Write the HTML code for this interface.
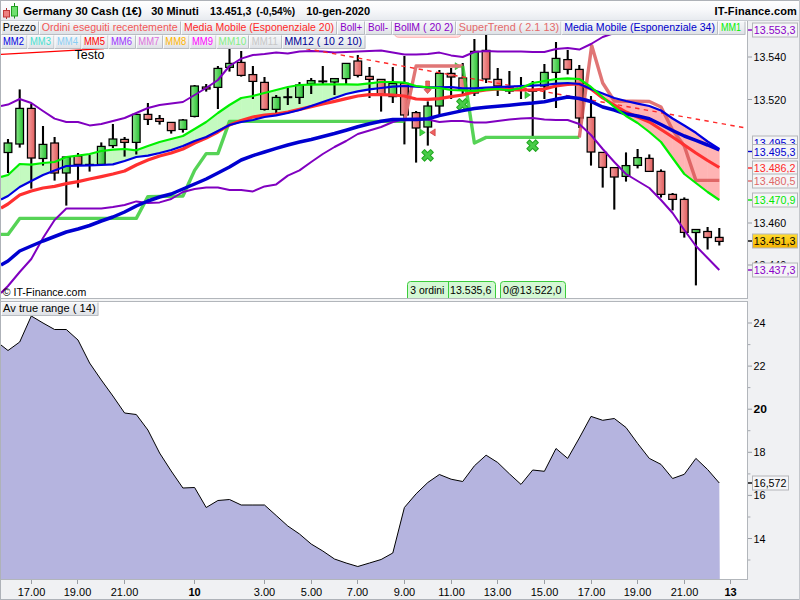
<!DOCTYPE html>
<html lang="it"><head><meta charset="utf-8"><title>Germany 30 Cash</title>
<style>html,body{margin:0;padding:0;background:#fff;width:800px;height:600px;overflow:hidden}svg{display:block;position:absolute;left:0;top:0}text{font-family:"Liberation Sans", Arial, sans-serif;font-size:11px}.b{font-weight:bold}</style></head><body>
<svg width="800" height="600" viewBox="0 0 800 600">
<defs>
<linearGradient id="gT" x1="0" y1="0" x2="0" y2="1"><stop offset="0" stop-color="#ffffff"/><stop offset="0.45" stop-color="#f8f9fb"/><stop offset="1" stop-color="#e6e9ee"/></linearGradient>
<linearGradient id="gL" x1="0" y1="0" x2="0" y2="1"><stop offset="0" stop-color="#f6f7f9"/><stop offset="0.5" stop-color="#eceef1"/><stop offset="1" stop-color="#dcdfe4"/></linearGradient>
<linearGradient id="gG" x1="0" y1="0" x2="1" y2="0"><stop offset="0" stop-color="#8ae88a"/><stop offset="1" stop-color="#28c032"/></linearGradient>
<linearGradient id="gR" x1="0" y1="0" x2="1" y2="0"><stop offset="0" stop-color="#f4a0a0"/><stop offset="1" stop-color="#e05c5c"/></linearGradient>
<linearGradient id="gY" x1="0" y1="0" x2="0" y2="1"><stop offset="0" stop-color="#ffdc30"/><stop offset="1" stop-color="#f6b400"/></linearGradient>
<clipPath id="c1"><rect x="1" y="21" width="746" height="277"/></clipPath>
<clipPath id="c2"><rect x="1" y="302" width="746" height="277"/></clipPath>
</defs>
<rect x="0" y="0" width="800" height="600" fill="#ffffff"/>
<rect x="748" y="21" width="52" height="579" fill="#f0f1f3"/>
<rect x="1" y="580" width="799" height="20" fill="#f0f1f3"/>
<g clip-path="url(#c1)">
<path d="M1.0,177.0 L8.0,175.0 L8.0,196.0 L1.0,199.6 Z" fill="#c4fac0" stroke="#c4fac0" stroke-width="0.6"/>
<path d="M8.0,175.0 L19.7,164.0 L19.7,187.0 L8.0,196.0 Z" fill="#c4fac0" stroke="#c4fac0" stroke-width="0.6"/>
<path d="M19.7,164.0 L31.3,164.6 L31.3,181.0 L19.7,187.0 Z" fill="#c4fac0" stroke="#c4fac0" stroke-width="0.6"/>
<path d="M31.3,164.6 L43.0,163.0 L43.0,175.0 L31.3,181.0 Z" fill="#c4fac0" stroke="#c4fac0" stroke-width="0.6"/>
<path d="M43.0,163.0 L54.6,162.0 L54.6,170.4 L43.0,175.0 Z" fill="#c4fac0" stroke="#c4fac0" stroke-width="0.6"/>
<path d="M54.6,162.0 L66.3,157.0 L66.3,166.0 L54.6,170.4 Z" fill="#c4fac0" stroke="#c4fac0" stroke-width="0.6"/>
<path d="M66.3,157.0 L78.0,155.6 L78.0,165.6 L66.3,166.0 Z" fill="#c4fac0" stroke="#c4fac0" stroke-width="0.6"/>
<path d="M78.0,155.6 L89.6,154.0 L89.6,165.4 L78.0,165.6 Z" fill="#c4fac0" stroke="#c4fac0" stroke-width="0.6"/>
<path d="M89.6,154.0 L101.3,151.0 L101.3,165.0 L89.6,165.4 Z" fill="#c4fac0" stroke="#c4fac0" stroke-width="0.6"/>
<path d="M101.3,151.0 L112.9,149.6 L112.9,164.4 L101.3,165.0 Z" fill="#c4fac0" stroke="#c4fac0" stroke-width="0.6"/>
<path d="M112.9,149.6 L124.6,149.0 L124.6,161.0 L112.9,164.4 Z" fill="#c4fac0" stroke="#c4fac0" stroke-width="0.6"/>
<path d="M124.6,149.0 L136.3,150.3 L136.3,157.0 L124.6,161.0 Z" fill="#c4fac0" stroke="#c4fac0" stroke-width="0.6"/>
<path d="M136.3,150.3 L147.9,146.0 L147.9,155.6 L136.3,157.0 Z" fill="#c4fac0" stroke="#c4fac0" stroke-width="0.6"/>
<path d="M147.9,146.0 L159.6,142.0 L159.6,153.0 L147.9,155.6 Z" fill="#c4fac0" stroke="#c4fac0" stroke-width="0.6"/>
<path d="M159.6,142.0 L171.2,139.0 L171.2,150.0 L159.6,153.0 Z" fill="#c4fac0" stroke="#c4fac0" stroke-width="0.6"/>
<path d="M171.2,139.0 L182.9,136.0 L182.9,146.0 L171.2,150.0 Z" fill="#c4fac0" stroke="#c4fac0" stroke-width="0.6"/>
<path d="M182.9,136.0 L194.6,129.0 L194.6,141.0 L182.9,146.0 Z" fill="#c4fac0" stroke="#c4fac0" stroke-width="0.6"/>
<path d="M194.6,129.0 L206.2,122.0 L206.2,137.0 L194.6,141.0 Z" fill="#c4fac0" stroke="#c4fac0" stroke-width="0.6"/>
<path d="M206.2,122.0 L217.9,113.0 L217.9,131.0 L206.2,137.0 Z" fill="#c4fac0" stroke="#c4fac0" stroke-width="0.6"/>
<path d="M217.9,113.0 L229.5,105.0 L229.5,125.0 L217.9,131.0 Z" fill="#c4fac0" stroke="#c4fac0" stroke-width="0.6"/>
<path d="M229.5,105.0 L241.2,98.0 L241.2,122.0 L229.5,125.0 Z" fill="#c4fac0" stroke="#c4fac0" stroke-width="0.6"/>
<path d="M241.2,98.0 L252.9,96.0 L252.9,120.0 L241.2,122.0 Z" fill="#c4fac0" stroke="#c4fac0" stroke-width="0.6"/>
<path d="M252.9,96.0 L264.5,93.0 L264.5,117.0 L252.9,120.0 Z" fill="#c4fac0" stroke="#c4fac0" stroke-width="0.6"/>
<path d="M264.5,93.0 L276.2,90.0 L276.2,115.4 L264.5,117.0 Z" fill="#c4fac0" stroke="#c4fac0" stroke-width="0.6"/>
<path d="M276.2,90.0 L287.8,87.0 L287.8,113.0 L276.2,115.4 Z" fill="#c4fac0" stroke="#c4fac0" stroke-width="0.6"/>
<path d="M287.8,87.0 L299.5,85.0 L299.5,110.0 L287.8,113.0 Z" fill="#c4fac0" stroke="#c4fac0" stroke-width="0.6"/>
<path d="M299.5,85.0 L311.2,84.6 L311.2,106.0 L299.5,110.0 Z" fill="#c4fac0" stroke="#c4fac0" stroke-width="0.6"/>
<path d="M311.2,84.6 L322.8,84.4 L322.8,102.0 L311.2,106.0 Z" fill="#c4fac0" stroke="#c4fac0" stroke-width="0.6"/>
<path d="M322.8,84.4 L334.5,84.4 L334.5,98.0 L322.8,102.0 Z" fill="#c4fac0" stroke="#c4fac0" stroke-width="0.6"/>
<path d="M334.5,84.4 L346.1,84.4 L346.1,94.0 L334.5,98.0 Z" fill="#c4fac0" stroke="#c4fac0" stroke-width="0.6"/>
<path d="M346.1,84.4 L357.8,84.6 L357.8,91.4 L346.1,94.0 Z" fill="#c4fac0" stroke="#c4fac0" stroke-width="0.6"/>
<path d="M357.8,84.6 L369.5,83.4 L369.5,89.4 L357.8,91.4 Z" fill="#c4fac0" stroke="#c4fac0" stroke-width="0.6"/>
<path d="M369.5,83.4 L381.1,82.0 L381.1,88.0 L369.5,89.4 Z" fill="#c4fac0" stroke="#c4fac0" stroke-width="0.6"/>
<path d="M381.1,82.0 L392.8,82.0 L392.8,86.6 L381.1,88.0 Z" fill="#c4fac0" stroke="#c4fac0" stroke-width="0.6"/>
<path d="M392.8,82.0 L404.4,82.6 L404.4,86.0 L392.8,86.6 Z" fill="#c4fac0" stroke="#c4fac0" stroke-width="0.6"/>
<path d="M404.4,82.6 L416.1,86.0 L416.1,86.6 L404.4,86.0 Z" fill="#c4fac0" stroke="#c4fac0" stroke-width="0.6"/>
<path d="M416.1,86.0 L427.8,87.4 L427.8,87.4 L416.1,86.6 Z" fill="#c4fac0" stroke="#c4fac0" stroke-width="0.6"/>
<path d="M427.8,87.4 L439.4,88.0 L439.4,87.4 L427.8,87.4 Z" fill="#ffb4b4" stroke="#ffb4b4" stroke-width="0.6"/>
<path d="M439.4,88.0 L451.1,90.0 L451.1,87.0 L439.4,87.4 Z" fill="#ffb4b4" stroke="#ffb4b4" stroke-width="0.6"/>
<path d="M451.1,90.0 L462.7,90.4 L462.7,88.4 L451.1,87.0 Z" fill="#ffb4b4" stroke="#ffb4b4" stroke-width="0.6"/>
<path d="M462.7,90.4 L474.4,91.0 L474.4,88.4 L462.7,88.4 Z" fill="#ffb4b4" stroke="#ffb4b4" stroke-width="0.6"/>
<path d="M474.4,91.0 L486.1,89.6 L486.1,87.6 L474.4,88.4 Z" fill="#ffb4b4" stroke="#ffb4b4" stroke-width="0.6"/>
<path d="M486.1,89.6 L497.7,89.0 L497.7,87.0 L486.1,87.6 Z" fill="#ffb4b4" stroke="#ffb4b4" stroke-width="0.6"/>
<path d="M497.7,89.0 L509.4,90.4 L509.4,86.6 L497.7,87.0 Z" fill="#ffb4b4" stroke="#ffb4b4" stroke-width="0.6"/>
<path d="M509.4,90.4 L521.0,88.0 L521.0,86.0 L509.4,86.6 Z" fill="#ffb4b4" stroke="#ffb4b4" stroke-width="0.6"/>
<path d="M521.0,88.0 L526.1,85.8 L521.0,86.0 Z" fill="#ffb4b4" stroke="#ffb4b4" stroke-width="0.6"/>
<path d="M526.1,85.8 L532.7,83.0 L532.7,85.6 Z" fill="#c4fac0" stroke="#c4fac0" stroke-width="0.6"/>
<path d="M532.7,83.0 L544.4,81.0 L544.4,85.0 L532.7,85.6 Z" fill="#c4fac0" stroke="#c4fac0" stroke-width="0.6"/>
<path d="M544.4,81.0 L556.0,79.0 L556.0,83.6 L544.4,85.0 Z" fill="#c4fac0" stroke="#c4fac0" stroke-width="0.6"/>
<path d="M556.0,79.0 L567.7,78.4 L567.7,83.0 L556.0,83.6 Z" fill="#c4fac0" stroke="#c4fac0" stroke-width="0.6"/>
<path d="M567.7,78.4 L579.3,79.0 L579.3,84.0 L567.7,83.0 Z" fill="#c4fac0" stroke="#c4fac0" stroke-width="0.6"/>
<path d="M579.3,79.0 L591.0,87.0 L591.0,89.0 L579.3,84.0 Z" fill="#c4fac0" stroke="#c4fac0" stroke-width="0.6"/>
<path d="M591.0,87.0 L595.3,90.7 L591.0,89.0 Z" fill="#c4fac0" stroke="#c4fac0" stroke-width="0.6"/>
<path d="M595.3,90.7 L602.7,97.0 L602.7,93.6 Z" fill="#ffb4b4" stroke="#ffb4b4" stroke-width="0.6"/>
<path d="M602.7,97.0 L614.3,107.0 L614.3,98.0 L602.7,93.6 Z" fill="#ffb4b4" stroke="#ffb4b4" stroke-width="0.6"/>
<path d="M614.3,107.0 L626.0,116.0 L626.0,101.0 L614.3,98.0 Z" fill="#ffb4b4" stroke="#ffb4b4" stroke-width="0.6"/>
<path d="M626.0,116.0 L637.6,123.0 L637.6,103.6 L626.0,101.0 Z" fill="#ffb4b4" stroke="#ffb4b4" stroke-width="0.6"/>
<path d="M637.6,123.0 L649.3,132.0 L649.3,106.0 L637.6,103.6 Z" fill="#ffb4b4" stroke="#ffb4b4" stroke-width="0.6"/>
<path d="M649.3,132.0 L661.0,142.0 L661.0,110.5 L649.3,106.0 Z" fill="#ffb4b4" stroke="#ffb4b4" stroke-width="0.6"/>
<path d="M661.0,142.0 L672.6,158.0 L672.6,118.5 L661.0,110.5 Z" fill="#ffb4b4" stroke="#ffb4b4" stroke-width="0.6"/>
<path d="M672.6,158.0 L684.3,174.0 L684.3,125.5 L672.6,118.5 Z" fill="#ffb4b4" stroke="#ffb4b4" stroke-width="0.6"/>
<path d="M684.3,174.0 L695.9,183.0 L695.9,132.8 L684.3,125.5 Z" fill="#ffb4b4" stroke="#ffb4b4" stroke-width="0.6"/>
<path d="M695.9,183.0 L707.6,192.0 L707.6,141.5 L695.9,132.8 Z" fill="#ffb4b4" stroke="#ffb4b4" stroke-width="0.6"/>
<path d="M707.6,192.0 L719.3,200.0 L719.3,149.0 L707.6,141.5 Z" fill="#ffb4b4" stroke="#ffb4b4" stroke-width="0.6"/>
<path d="M394.5,33 Q394.5,37.3 399,37.3 H456.5 Q461,37.3 461,33 Z" fill="#ffe2e2" stroke="#ffb0b0" stroke-width="1"/>
<line x1="8.0" y1="139.0" x2="8.0" y2="173.0" stroke="#000" stroke-width="2.1"/>
<rect x="4.15" y="143.0" width="7.7" height="9.5" fill="url(#gG)" stroke="#000" stroke-width="1.25"/>
<line x1="19.7" y1="89.4" x2="19.7" y2="147.6" stroke="#000" stroke-width="2.1"/>
<rect x="15.81" y="108.4" width="7.7" height="35.6" fill="url(#gG)" stroke="#000" stroke-width="1.25"/>
<line x1="31.3" y1="104.0" x2="31.3" y2="188.6" stroke="#000" stroke-width="2.1"/>
<rect x="27.47" y="108.4" width="7.7" height="49.6" fill="url(#gR)" stroke="#000" stroke-width="1.25"/>
<line x1="43.0" y1="126.0" x2="43.0" y2="165.6" stroke="#000" stroke-width="2.1"/>
<rect x="39.13" y="144.4" width="7.7" height="14.1" fill="url(#gG)" stroke="#000" stroke-width="1.25"/>
<line x1="54.6" y1="137.0" x2="54.6" y2="180.6" stroke="#000" stroke-width="2.1"/>
<rect x="50.79" y="143.0" width="7.7" height="30.0" fill="url(#gR)" stroke="#000" stroke-width="1.25"/>
<line x1="66.3" y1="157.0" x2="66.3" y2="205.6" stroke="#000" stroke-width="2.1"/>
<rect x="62.45" y="157.0" width="7.7" height="16.0" fill="url(#gG)" stroke="#000" stroke-width="1.25"/>
<line x1="78.0" y1="153.0" x2="78.0" y2="187.6" stroke="#000" stroke-width="2.1"/>
<rect x="74.11" y="156.0" width="7.7" height="8.4" fill="url(#gR)" stroke="#000" stroke-width="1.25"/>
<line x1="89.6" y1="155.0" x2="89.6" y2="171.6" stroke="#000" stroke-width="2.1"/>
<rect x="85.1" y="163.8" width="9" height="2.0" fill="#000"/>
<line x1="101.3" y1="142.4" x2="101.3" y2="164.4" stroke="#000" stroke-width="2.1"/>
<rect x="97.43" y="146.4" width="7.7" height="18.0" fill="url(#gG)" stroke="#000" stroke-width="1.25"/>
<line x1="112.9" y1="124.0" x2="112.9" y2="148.0" stroke="#000" stroke-width="2.1"/>
<rect x="109.09" y="139.0" width="7.7" height="6.6" fill="url(#gG)" stroke="#000" stroke-width="1.25"/>
<line x1="124.6" y1="137.0" x2="124.6" y2="156.6" stroke="#000" stroke-width="2.1"/>
<rect x="120.75" y="139.4" width="7.7" height="3.0" fill="url(#gR)" stroke="#000" stroke-width="1.25"/>
<line x1="136.3" y1="114.4" x2="136.3" y2="154.5" stroke="#000" stroke-width="2.1"/>
<rect x="132.41" y="114.4" width="7.7" height="28.0" fill="url(#gG)" stroke="#000" stroke-width="1.25"/>
<line x1="147.9" y1="103.0" x2="147.9" y2="125.0" stroke="#000" stroke-width="2.1"/>
<rect x="144.07" y="114.4" width="7.7" height="5.0" fill="url(#gR)" stroke="#000" stroke-width="1.25"/>
<line x1="159.6" y1="115.0" x2="159.6" y2="124.6" stroke="#000" stroke-width="2.1"/>
<rect x="155.73" y="118.6" width="7.7" height="2.8" fill="url(#gR)" stroke="#000" stroke-width="1.25"/>
<line x1="171.2" y1="122.4" x2="171.2" y2="133.6" stroke="#000" stroke-width="2.1"/>
<rect x="167.39" y="122.4" width="7.7" height="8.2" fill="url(#gR)" stroke="#000" stroke-width="1.25"/>
<line x1="182.9" y1="119.0" x2="182.9" y2="132.6" stroke="#000" stroke-width="2.1"/>
<rect x="179.05" y="120.0" width="7.7" height="9.4" fill="url(#gG)" stroke="#000" stroke-width="1.25"/>
<line x1="194.6" y1="85.0" x2="194.6" y2="117.4" stroke="#000" stroke-width="2.1"/>
<rect x="190.71" y="86.0" width="7.7" height="30.4" fill="url(#gG)" stroke="#000" stroke-width="1.25"/>
<line x1="206.2" y1="84.0" x2="206.2" y2="91.6" stroke="#000" stroke-width="2.1"/>
<rect x="202.37" y="87.0" width="7.7" height="2.0" fill="url(#gR)" stroke="#000" stroke-width="1.25"/>
<line x1="217.9" y1="66.0" x2="217.9" y2="109.0" stroke="#000" stroke-width="2.1"/>
<rect x="214.03" y="68.4" width="7.7" height="19.0" fill="url(#gG)" stroke="#000" stroke-width="1.25"/>
<line x1="229.5" y1="40.0" x2="229.5" y2="71.6" stroke="#000" stroke-width="2.1"/>
<rect x="225.69" y="63.4" width="7.7" height="4.0" fill="url(#gG)" stroke="#000" stroke-width="1.25"/>
<line x1="241.2" y1="51.0" x2="241.2" y2="76.6" stroke="#000" stroke-width="2.1"/>
<rect x="237.35" y="62.4" width="7.7" height="13.0" fill="url(#gR)" stroke="#000" stroke-width="1.25"/>
<line x1="252.9" y1="66.0" x2="252.9" y2="99.0" stroke="#000" stroke-width="2.1"/>
<rect x="249.01" y="74.6" width="7.7" height="6.8" fill="url(#gR)" stroke="#000" stroke-width="1.25"/>
<line x1="264.5" y1="77.0" x2="264.5" y2="110.6" stroke="#000" stroke-width="2.1"/>
<rect x="260.67" y="82.4" width="7.7" height="27.0" fill="url(#gR)" stroke="#000" stroke-width="1.25"/>
<line x1="276.2" y1="95.0" x2="276.2" y2="114.0" stroke="#000" stroke-width="2.1"/>
<rect x="272.33" y="97.4" width="7.7" height="12.0" fill="url(#gG)" stroke="#000" stroke-width="1.25"/>
<line x1="287.8" y1="88.0" x2="287.8" y2="105.0" stroke="#000" stroke-width="2.1"/>
<rect x="283.3" y="96.2" width="9" height="2.0" fill="#000"/>
<line x1="299.5" y1="82.0" x2="299.5" y2="104.0" stroke="#000" stroke-width="2.1"/>
<rect x="295.65" y="85.0" width="7.7" height="12.4" fill="url(#gG)" stroke="#000" stroke-width="1.25"/>
<line x1="311.2" y1="78.0" x2="311.2" y2="94.0" stroke="#000" stroke-width="2.1"/>
<rect x="307.31" y="80.6" width="7.7" height="3.4" fill="url(#gG)" stroke="#000" stroke-width="1.25"/>
<line x1="322.8" y1="66.0" x2="322.8" y2="85.0" stroke="#000" stroke-width="2.1"/>
<rect x="318.3" y="80.4" width="9" height="2.0" fill="#000"/>
<line x1="334.5" y1="78.6" x2="334.5" y2="95.0" stroke="#000" stroke-width="2.1"/>
<rect x="330.63" y="78.6" width="7.7" height="3.4" fill="url(#gG)" stroke="#000" stroke-width="1.25"/>
<line x1="346.1" y1="63.0" x2="346.1" y2="84.0" stroke="#000" stroke-width="2.1"/>
<rect x="342.29" y="63.4" width="7.7" height="15.2" fill="url(#gG)" stroke="#000" stroke-width="1.25"/>
<line x1="357.8" y1="55.0" x2="357.8" y2="77.4" stroke="#000" stroke-width="2.1"/>
<rect x="353.95" y="61.0" width="7.7" height="14.4" fill="url(#gR)" stroke="#000" stroke-width="1.25"/>
<line x1="369.5" y1="67.0" x2="369.5" y2="98.0" stroke="#000" stroke-width="2.1"/>
<rect x="365.61" y="76.4" width="7.7" height="3.0" fill="url(#gR)" stroke="#000" stroke-width="1.25"/>
<line x1="381.1" y1="79.4" x2="381.1" y2="111.6" stroke="#000" stroke-width="2.1"/>
<rect x="377.27" y="79.4" width="7.7" height="15.2" fill="url(#gR)" stroke="#000" stroke-width="1.25"/>
<line x1="392.8" y1="67.0" x2="392.8" y2="103.0" stroke="#000" stroke-width="2.1"/>
<rect x="388.93" y="83.4" width="7.7" height="13.2" fill="url(#gG)" stroke="#000" stroke-width="1.25"/>
<line x1="404.4" y1="56.0" x2="404.4" y2="144.4" stroke="#000" stroke-width="2.1"/>
<rect x="400.59" y="83.4" width="7.7" height="31.6" fill="url(#gR)" stroke="#000" stroke-width="1.25"/>
<line x1="416.1" y1="111.0" x2="416.1" y2="162.6" stroke="#000" stroke-width="2.1"/>
<rect x="412.25" y="112.6" width="7.7" height="15.4" fill="url(#gR)" stroke="#000" stroke-width="1.25"/>
<line x1="427.8" y1="101.4" x2="427.8" y2="145.6" stroke="#000" stroke-width="2.1"/>
<rect x="423.91" y="106.0" width="7.7" height="21.0" fill="url(#gG)" stroke="#000" stroke-width="1.25"/>
<line x1="439.4" y1="70.0" x2="439.4" y2="115.0" stroke="#000" stroke-width="2.1"/>
<rect x="435.57" y="73.4" width="7.7" height="32.6" fill="url(#gG)" stroke="#000" stroke-width="1.25"/>
<line x1="451.1" y1="68.0" x2="451.1" y2="99.0" stroke="#000" stroke-width="2.1"/>
<rect x="447.23" y="73.4" width="7.7" height="3.6" fill="url(#gR)" stroke="#000" stroke-width="1.25"/>
<line x1="462.7" y1="63.0" x2="462.7" y2="95.0" stroke="#000" stroke-width="2.1"/>
<rect x="458.89" y="78.0" width="7.7" height="12.0" fill="url(#gR)" stroke="#000" stroke-width="1.25"/>
<line x1="474.4" y1="39.0" x2="474.4" y2="96.0" stroke="#000" stroke-width="2.1"/>
<rect x="470.55" y="51.4" width="7.7" height="41.6" fill="url(#gG)" stroke="#000" stroke-width="1.25"/>
<line x1="486.1" y1="35.0" x2="486.1" y2="83.0" stroke="#000" stroke-width="2.1"/>
<rect x="482.21" y="50.4" width="7.7" height="28.6" fill="url(#gR)" stroke="#000" stroke-width="1.25"/>
<line x1="497.7" y1="68.0" x2="497.7" y2="96.0" stroke="#000" stroke-width="2.1"/>
<rect x="493.87" y="79.4" width="7.7" height="6.6" fill="url(#gR)" stroke="#000" stroke-width="1.25"/>
<line x1="509.4" y1="71.0" x2="509.4" y2="94.0" stroke="#000" stroke-width="2.1"/>
<rect x="505.53" y="88.0" width="7.7" height="3.0" fill="url(#gR)" stroke="#000" stroke-width="1.25"/>
<line x1="521.0" y1="77.0" x2="521.0" y2="99.0" stroke="#000" stroke-width="2.1"/>
<rect x="516.5" y="89.0" width="9" height="2.0" fill="#000"/>
<line x1="532.7" y1="81.0" x2="532.7" y2="136.0" stroke="#000" stroke-width="2.1"/>
<rect x="528.2" y="89.8" width="9" height="2.0" fill="#000"/>
<line x1="544.4" y1="64.0" x2="544.4" y2="99.0" stroke="#000" stroke-width="2.1"/>
<rect x="540.51" y="72.4" width="7.7" height="13.6" fill="url(#gG)" stroke="#000" stroke-width="1.25"/>
<line x1="556.0" y1="42.0" x2="556.0" y2="108.0" stroke="#000" stroke-width="2.1"/>
<rect x="552.17" y="58.4" width="7.7" height="14.0" fill="url(#gG)" stroke="#000" stroke-width="1.25"/>
<line x1="567.7" y1="50.0" x2="567.7" y2="74.4" stroke="#000" stroke-width="2.1"/>
<rect x="563.83" y="59.6" width="7.7" height="9.8" fill="url(#gR)" stroke="#000" stroke-width="1.25"/>
<line x1="579.3" y1="65.0" x2="579.3" y2="128.0" stroke="#000" stroke-width="2.1"/>
<rect x="575.49" y="69.4" width="7.7" height="48.6" fill="url(#gR)" stroke="#000" stroke-width="1.25"/>
<line x1="591.0" y1="96.0" x2="591.0" y2="165.6" stroke="#000" stroke-width="2.1"/>
<rect x="587.15" y="117.4" width="7.7" height="34.6" fill="url(#gR)" stroke="#000" stroke-width="1.25"/>
<line x1="602.7" y1="152.4" x2="602.7" y2="187.6" stroke="#000" stroke-width="2.1"/>
<rect x="598.81" y="152.4" width="7.7" height="15.0" fill="url(#gR)" stroke="#000" stroke-width="1.25"/>
<line x1="614.3" y1="167.6" x2="614.3" y2="209.6" stroke="#000" stroke-width="2.1"/>
<rect x="610.47" y="167.6" width="7.7" height="9.4" fill="url(#gR)" stroke="#000" stroke-width="1.25"/>
<line x1="626.0" y1="152.4" x2="626.0" y2="181.6" stroke="#000" stroke-width="2.1"/>
<rect x="622.13" y="165.6" width="7.7" height="10.8" fill="url(#gG)" stroke="#000" stroke-width="1.25"/>
<line x1="637.6" y1="149.0" x2="637.6" y2="168.4" stroke="#000" stroke-width="2.1"/>
<rect x="633.79" y="157.6" width="7.7" height="7.8" fill="url(#gG)" stroke="#000" stroke-width="1.25"/>
<line x1="649.3" y1="154.4" x2="649.3" y2="171.4" stroke="#000" stroke-width="2.1"/>
<rect x="645.45" y="158.4" width="7.7" height="13.0" fill="url(#gR)" stroke="#000" stroke-width="1.25"/>
<line x1="661.0" y1="169.4" x2="661.0" y2="197.6" stroke="#000" stroke-width="2.1"/>
<rect x="657.11" y="171.4" width="7.7" height="23.0" fill="url(#gR)" stroke="#000" stroke-width="1.25"/>
<line x1="672.6" y1="193.0" x2="672.6" y2="210.4" stroke="#000" stroke-width="2.1"/>
<rect x="668.77" y="194.4" width="7.7" height="5.0" fill="url(#gR)" stroke="#000" stroke-width="1.25"/>
<line x1="684.3" y1="197.4" x2="684.3" y2="237.6" stroke="#000" stroke-width="2.1"/>
<rect x="680.43" y="199.4" width="7.7" height="33.0" fill="url(#gR)" stroke="#000" stroke-width="1.25"/>
<line x1="695.9" y1="229.5" x2="695.9" y2="285.4" stroke="#000" stroke-width="2.1"/>
<rect x="692.09" y="229.5" width="7.7" height="3.0" fill="url(#gG)" stroke="#000" stroke-width="1.25"/>
<line x1="707.6" y1="227.0" x2="707.6" y2="249.5" stroke="#000" stroke-width="2.1"/>
<rect x="703.75" y="231.5" width="7.7" height="6.0" fill="url(#gR)" stroke="#000" stroke-width="1.25"/>
<line x1="719.3" y1="228.0" x2="719.3" y2="245.5" stroke="#000" stroke-width="2.1"/>
<rect x="715.41" y="237.4" width="7.7" height="4.0" fill="url(#gR)" stroke="#000" stroke-width="1.25"/>
<g transform="translate(427.6,155.4) rotate(45)"><path d="M-1.9,-6.2 H1.9 V-1.9 H6.2 V1.9 H1.9 V6.2 H-1.9 V1.9 H-6.2 V-1.9 H-1.9 Z" fill="#48cc48" stroke="#22a822" stroke-width="1.1" stroke-linejoin="round"/></g>
<g transform="translate(462.4,104.4) rotate(45)"><path d="M-1.9,-6.2 H1.9 V-1.9 H6.2 V1.9 H1.9 V6.2 H-1.9 V1.9 H-6.2 V-1.9 H-1.9 Z" fill="#48cc48" stroke="#22a822" stroke-width="1.1" stroke-linejoin="round"/></g>
<g transform="translate(532.6,145.6) rotate(45)"><path d="M-1.9,-6.2 H1.9 V-1.9 H6.2 V1.9 H1.9 V6.2 H-1.9 V1.9 H-6.2 V-1.9 H-1.9 Z" fill="#48cc48" stroke="#22a822" stroke-width="1.1" stroke-linejoin="round"/></g>
<path d="M419.8,128.9 L425.2,132.4 L419.8,135.9 Z" fill="#40d840" stroke="#20a020" stroke-width="0.6"/>
<path d="M435.2,128.9 L429.8,132.4 L435.2,135.9 Z" fill="#f06060" stroke="#c03030" stroke-width="0.6"/>
<path d="M455.2,62.7 L460.6,66.2 L455.2,69.7 Z" fill="#40d840" stroke="#20a020" stroke-width="0.6"/>
<path d="M525.0,91.5 L530.4,95.0 L525.0,98.5 Z" fill="#40d840" stroke="#20a020" stroke-width="0.6"/>
<path d="M425.7,81 H429.5 V89.5 H431.2 L427.6,93.6 L424,89.5 H425.7 Z" fill="#ea6666" stroke="#c84444" stroke-width="0.7"/>
<path d="M1.0,234.4 L8.0,234.4 L19.7,218.4 L136.3,218.4 L147.9,196.6 L182.9,196.0 L194.6,170.4 L206.2,153.6 L217.9,153.6 L229.5,121.4 L404.4,121.4" fill="none" stroke="#2cc82c" stroke-opacity="0.8" stroke-width="3.4" stroke-linejoin="round" stroke-linecap="butt"/>
<path d="M404.4,121.4 L416.1,66.0 L462.7,66.0" fill="none" stroke="#e07676" stroke-width="3.4" stroke-linejoin="round"/>
<path d="M462.7,66.0 L474.4,143.0 L486.1,137.4 L579.3,137.4" fill="none" stroke="#2cc82c" stroke-opacity="0.8" stroke-width="3.4" stroke-linejoin="round" stroke-linecap="butt"/>
<path d="M579.3,137.4 L591.7,45.6 L602.7,83.0 L614.3,101.0 L649.3,101.5 L661.0,107.0 L672.6,130.0 L684.3,146.0 L695.9,180.4 L719.3,180.4" fill="none" stroke="#d85252" stroke-opacity="0.8" stroke-width="3.4" stroke-linejoin="round"/>
<path d="M1.0,293.0 L8.0,286.0 L19.7,272.0 L31.3,259.0 L43.0,238.0 L54.6,220.0 L66.3,208.5 L78.0,208.5 L89.6,208.5 L101.3,208.5 L112.9,207.0 L124.6,205.0 L136.3,201.4 L147.9,203.0 L159.6,202.4 L171.2,199.0 L182.9,192.0 L194.6,189.0 L206.2,187.4 L217.9,187.4 L229.5,190.0 L241.2,190.0 L252.9,191.4 L264.5,186.4 L276.2,184.4 L287.8,175.6 L299.5,170.4 L311.2,162.0 L322.8,154.0 L334.5,147.0 L346.1,141.0 L357.8,134.0 L369.5,130.5 L381.1,127.0 L392.8,122.0 L404.4,119.0 L416.1,118.6 L427.8,119.4 L439.4,122.0 L451.1,121.0 L462.7,121.0 L474.4,122.4 L486.1,122.4 L497.7,121.0 L509.4,119.6 L521.0,118.6 L532.7,118.0 L544.4,119.4 L556.0,120.0 L567.7,120.0 L579.3,124.0 L591.0,135.0 L602.7,149.0 L614.3,162.0 L626.0,174.0 L637.6,181.0 L649.3,188.0 L661.0,200.0 L672.6,213.0 L684.3,230.0 L695.9,246.0 L707.6,258.0 L719.3,270.0" fill="none" stroke="#8000c0" stroke-width="2" stroke-linejoin="round"/>
<path d="M1.0,106.0 L8.0,104.6 L19.7,99.0 L31.3,103.0 L43.0,111.0 L54.6,118.6 L66.3,122.0 L78.0,122.0 L89.6,125.4 L101.3,124.0 L112.9,121.0 L124.6,118.0 L136.3,113.0 L147.9,108.0 L159.6,105.0 L171.2,103.6 L182.9,102.0 L194.6,95.0 L206.2,88.0 L217.9,80.0 L229.5,66.0 L241.2,58.6 L252.9,55.0 L264.5,54.0 L276.2,52.6 L287.8,53.4 L299.5,51.4 L311.2,51.0 L322.8,51.4 L334.5,52.6 L346.1,52.0 L357.8,51.6 L369.5,51.0 L381.1,50.6 L392.8,52.6 L404.4,54.6 L416.1,54.6 L427.8,54.0 L439.4,52.6 L451.1,55.4 L462.7,57.0 L474.4,52.0 L486.1,51.0 L497.7,51.6 L509.4,51.6 L521.0,51.6 L532.7,52.0 L544.4,52.0 L556.0,49.0 L567.7,48.0 L579.3,49.6 L591.0,44.0 L602.7,37.0 L614.3,33.0 L626.0,32.0 L637.6,31.5 L649.3,31.0 L661.0,30.5 L672.6,30.5 L684.3,30.5 L695.9,30.0 L707.6,30.0 L719.3,30.0" fill="none" stroke="#8000c0" stroke-width="2" stroke-linejoin="round"/>
<line x1="1" y1="54.3" x2="104" y2="48.6" stroke="#ff0000" stroke-width="1.3"/>
<line x1="280" y1="44" x2="747" y2="128.2" stroke="#ff2a2a" stroke-width="1.4" stroke-dasharray="4.4 4.4"/>
<path d="M1.0,208.0 L8.0,204.0 L19.7,195.0 L31.3,191.0 L43.0,188.0 L54.6,186.4 L66.3,183.6 L78.0,181.6 L89.6,179.0 L101.3,176.6 L112.9,174.0 L124.6,171.0 L136.3,165.0 L147.9,160.0 L159.6,156.0 L171.2,153.0 L182.9,149.0 L194.6,143.0 L206.2,138.0 L217.9,132.0 L229.5,125.0 L241.2,120.6 L252.9,117.0 L264.5,115.0 L276.2,114.0 L287.8,112.0 L299.5,109.4 L311.2,106.6 L322.8,104.0 L334.5,101.4 L346.1,98.6 L357.8,96.0 L369.5,94.6 L381.1,94.6 L392.8,95.0 L404.4,96.0 L416.1,99.0 L427.8,99.4 L439.4,98.6 L451.1,96.6 L462.7,95.0 L474.4,91.6 L486.1,90.0 L497.7,89.0 L509.4,89.6 L521.0,90.0 L532.7,90.0 L544.4,89.0 L556.0,86.0 L567.7,84.4 L579.3,84.0 L591.0,89.0 L602.7,98.0 L614.3,105.0 L626.0,112.0 L637.6,117.0 L649.3,122.0 L661.0,129.5 L672.6,137.0 L684.3,145.0 L695.9,153.0 L707.6,160.5 L719.3,167.5" fill="none" stroke="#ff3030" stroke-width="3.2" stroke-linejoin="round"/>
<path d="M1.0,265.0 L8.0,261.0 L19.7,251.0 L31.3,246.0 L43.0,241.0 L54.6,236.5 L66.3,232.0 L78.0,229.0 L89.6,225.5 L101.3,221.0 L112.9,217.0 L124.6,212.0 L136.3,206.0 L147.9,201.0 L159.6,197.0 L171.2,194.0 L182.9,189.0 L194.6,184.0 L206.2,179.0 L217.9,173.0 L229.5,167.0 L241.2,160.0 L252.9,155.6 L264.5,152.0 L276.2,148.4 L287.8,145.0 L299.5,142.0 L311.2,139.5 L322.8,136.5 L334.5,133.5 L346.1,130.2 L357.8,126.7 L369.5,123.7 L381.1,121.2 L392.8,119.4 L404.4,119.4 L416.1,119.4 L427.8,118.7 L439.4,115.6 L451.1,113.1 L462.7,110.6 L474.4,108.5 L486.1,107.2 L497.7,106.3 L509.4,105.2 L521.0,104.0 L532.7,103.0 L544.4,101.7 L556.0,99.2 L567.7,97.0 L579.3,98.5 L591.0,101.5 L602.7,107.0 L614.3,110.0 L626.0,114.0 L637.6,116.0 L649.3,118.7 L661.0,124.5 L672.6,130.5 L684.3,136.0 L695.9,140.4 L707.6,145.0 L719.3,150.0" fill="none" stroke="#0000d0" stroke-width="3.5" stroke-linejoin="round"/>
<path d="M1.0,199.6 L8.0,196.0 L19.7,187.0 L31.3,181.0 L43.0,175.0 L54.6,170.4 L66.3,166.0 L78.0,165.6 L89.6,165.4 L101.3,165.0 L112.9,164.4 L124.6,161.0 L136.3,157.0 L147.9,155.6 L159.6,153.0 L171.2,150.0 L182.9,146.0 L194.6,141.0 L206.2,137.0 L217.9,131.0 L229.5,125.0 L241.2,122.0 L252.9,120.0 L264.5,117.0 L276.2,115.4 L287.8,113.0 L299.5,110.0 L311.2,106.0 L322.8,102.0 L334.5,98.0 L346.1,94.0 L357.8,91.4 L369.5,89.4 L381.1,88.0 L392.8,86.6 L404.4,86.0 L416.1,86.6 L427.8,87.4 L439.4,87.4 L451.1,87.0 L462.7,88.4 L474.4,88.4 L486.1,87.6 L497.7,87.0 L509.4,86.6 L521.0,86.0 L532.7,85.6 L544.4,85.0 L556.0,83.6 L567.7,83.0 L579.3,84.0 L591.0,89.0 L602.7,93.6 L614.3,98.0 L626.0,101.0 L637.6,103.6 L649.3,106.0 L661.0,110.5 L672.6,118.5 L684.3,125.5 L695.9,132.8 L707.6,141.5 L719.3,149.0" fill="none" stroke="#0000e0" stroke-width="2.2" stroke-linejoin="round"/>
<path d="M1.0,177.0 L8.0,175.0 L19.7,164.0 L31.3,164.6 L43.0,163.0 L54.6,162.0 L66.3,157.0 L78.0,155.6 L89.6,154.0 L101.3,151.0 L112.9,149.6 L124.6,149.0 L136.3,150.3 L147.9,146.0 L159.6,142.0 L171.2,139.0 L182.9,136.0 L194.6,129.0 L206.2,122.0 L217.9,113.0 L229.5,105.0 L241.2,98.0 L252.9,96.0 L264.5,93.0 L276.2,90.0 L287.8,87.0 L299.5,85.0 L311.2,84.6 L322.8,84.4 L334.5,84.4 L346.1,84.4 L357.8,84.6 L369.5,83.4 L381.1,82.0 L392.8,82.0 L404.4,82.6 L416.1,86.0 L427.8,87.4 L439.4,88.0 L451.1,90.0 L462.7,90.4 L474.4,91.0 L486.1,89.6 L497.7,89.0 L509.4,90.4 L521.0,88.0 L532.7,83.0 L544.4,81.0 L556.0,79.0 L567.7,78.4 L579.3,79.0 L591.0,87.0 L602.7,97.0 L614.3,107.0 L626.0,116.0 L637.6,123.0 L649.3,132.0 L661.0,142.0 L672.6,158.0 L684.3,174.0 L695.9,183.0 L707.6,192.0 L719.3,200.0" fill="none" stroke="#00f000" stroke-width="2.2" stroke-linejoin="round"/>
</g>
<g clip-path="url(#c2)">
<path d="M1,579 L1.0,345.0 L8.0,350.5 L19.7,342.0 L31.3,316.0 L43.0,323.0 L54.6,329.5 L66.3,329.5 L78.0,340.0 L89.6,363.0 L101.3,380.0 L112.9,396.0 L124.6,413.0 L136.3,414.5 L147.9,430.0 L159.6,453.0 L171.2,471.0 L182.9,488.0 L194.6,487.5 L206.2,507.5 L217.9,500.5 L229.5,499.5 L241.2,505.0 L252.9,505.0 L264.5,505.0 L276.2,515.5 L287.8,526.0 L299.5,534.0 L311.2,544.0 L322.8,551.0 L334.5,559.0 L346.1,563.0 L357.8,566.5 L369.5,563.0 L381.1,559.5 L392.8,553.0 L404.4,507.5 L416.1,493.8 L427.8,482.5 L439.4,474.5 L451.1,479.2 L462.7,481.5 L474.4,465.8 L486.1,455.2 L497.7,462.5 L509.4,473.8 L521.0,484.4 L532.7,470.0 L544.4,471.3 L556.0,448.5 L567.7,458.4 L579.3,438.0 L591.0,416.4 L602.7,420.3 L614.3,418.5 L626.0,427.5 L637.6,443.4 L649.3,458.4 L661.0,464.4 L672.6,478.5 L684.3,474.3 L695.9,458.4 L707.6,469.5 L719.3,483.0 L719.8,579 Z" fill="#b5b4df"/>
<path d="M1.0,345.0 L8.0,350.5 L19.7,342.0 L31.3,316.0 L43.0,323.0 L54.6,329.5 L66.3,329.5 L78.0,340.0 L89.6,363.0 L101.3,380.0 L112.9,396.0 L124.6,413.0 L136.3,414.5 L147.9,430.0 L159.6,453.0 L171.2,471.0 L182.9,488.0 L194.6,487.5 L206.2,507.5 L217.9,500.5 L229.5,499.5 L241.2,505.0 L252.9,505.0 L264.5,505.0 L276.2,515.5 L287.8,526.0 L299.5,534.0 L311.2,544.0 L322.8,551.0 L334.5,559.0 L346.1,563.0 L357.8,566.5 L369.5,563.0 L381.1,559.5 L392.8,553.0 L404.4,507.5 L416.1,493.8 L427.8,482.5 L439.4,474.5 L451.1,479.2 L462.7,481.5 L474.4,465.8 L486.1,455.2 L497.7,462.5 L509.4,473.8 L521.0,484.4 L532.7,470.0 L544.4,471.3 L556.0,448.5 L567.7,458.4 L579.3,438.0 L591.0,416.4 L602.7,420.3 L614.3,418.5 L626.0,427.5 L637.6,443.4 L649.3,458.4 L661.0,464.4 L672.6,478.5 L684.3,474.3 L695.9,458.4 L707.6,469.5 L719.3,483.0" fill="none" stroke="#000" stroke-width="1" stroke-linejoin="round"/>
</g>
<rect x="1" y="298" width="747" height="1" fill="#b2b6bb"/>
<rect x="1" y="299" width="747" height="2" fill="#f4f5f6"/>
<rect x="1" y="301" width="747" height="1" fill="#b2b6bb"/>
<rect x="747" y="21" width="1" height="278" fill="#b2b6bb"/>
<rect x="747" y="301" width="1" height="279" fill="#b2b6bb"/>
<rect x="1" y="579" width="747" height="1" fill="#b2b6bb"/>
<rect x="748" y="298" width="52" height="4" fill="#f0f1f3"/>
<rect x="0" y="0" width="800" height="21" fill="url(#gT)"/>
<rect x="0" y="20" width="800" height="1" fill="#c9cdd2"/>
<line x1="6.5" y1="8" x2="6.5" y2="19" stroke="#b03030" stroke-width="1"/>
<rect x="3.5" y="10.5" width="6" height="6.5" fill="#ee8080" stroke="#c03838" stroke-width="1"/>
<line x1="14.5" y1="3" x2="14.5" y2="18.5" stroke="#189018" stroke-width="1"/>
<rect x="11.5" y="6.5" width="6" height="9.5" fill="#70e070" stroke="#20a020" stroke-width="1"/>
<text x="23.25" y="15" class="b" textLength="118.5" lengthAdjust="spacingAndGlyphs">Germany 30 Cash (1€)</text>
<text x="151.25" y="15" class="b" textLength="47.5" lengthAdjust="spacingAndGlyphs">30 Minuti</text>
<text x="210.00" y="15" class="b" textLength="41.3" lengthAdjust="spacingAndGlyphs">13.451,3</text>
<text x="256.30" y="15" class="b" textLength="38.8" lengthAdjust="spacingAndGlyphs">(-0,54%)</text>
<text x="306.25" y="15" class="b" textLength="63.8" lengthAdjust="spacingAndGlyphs">10-gen-2020</text>
<text x="714.4" y="15" class="b" textLength="82.5" lengthAdjust="spacing">IT-Finance.com</text>
<rect x="1.0" y="21.0" width="38.0" height="14.0" fill="url(#gL)"/>
<path d="M1.5,34.5 V21.5 H38.5" fill="none" stroke="#fbfcfd" stroke-width="1"/>
<path d="M38.5,21.5 V34.5 H1.5" fill="none" stroke="#b9bdc3" stroke-width="1"/>
<text x="2.8" y="31.2" fill="#000000" textLength="33.2" lengthAdjust="spacingAndGlyphs">Prezzo</text>
<rect x="39.0" y="21.0" width="142.0" height="14.0" fill="url(#gL)"/>
<path d="M39.5,34.5 V21.5 H180.5" fill="none" stroke="#fbfcfd" stroke-width="1"/>
<path d="M180.5,21.5 V34.5 H39.5" fill="none" stroke="#b9bdc3" stroke-width="1"/>
<text x="41.7" y="31.2" fill="#f25858" textLength="136.0" lengthAdjust="spacingAndGlyphs">Ordini eseguiti recentemente</text>
<rect x="181.0" y="21.0" width="156.0" height="14.0" fill="url(#gL)"/>
<path d="M181.5,34.5 V21.5 H336.5" fill="none" stroke="#fbfcfd" stroke-width="1"/>
<path d="M336.5,21.5 V34.5 H181.5" fill="none" stroke="#b9bdc3" stroke-width="1"/>
<text x="184.0" y="31.2" fill="#ff2828" textLength="150.0" lengthAdjust="spacingAndGlyphs">Media Mobile (Esponenziale 20)</text>
<rect x="337.0" y="21.0" width="28.0" height="14.0" fill="url(#gL)"/>
<path d="M337.5,34.5 V21.5 H364.5" fill="none" stroke="#fbfcfd" stroke-width="1"/>
<path d="M364.5,21.5 V34.5 H337.5" fill="none" stroke="#b9bdc3" stroke-width="1"/>
<text x="340.2" y="31.2" fill="#8a00c8" textLength="22.0" lengthAdjust="spacingAndGlyphs">Boll+</text>
<rect x="365.0" y="21.0" width="27.0" height="14.0" fill="url(#gL)"/>
<path d="M365.5,34.5 V21.5 H391.5" fill="none" stroke="#fbfcfd" stroke-width="1"/>
<path d="M391.5,21.5 V34.5 H365.5" fill="none" stroke="#b9bdc3" stroke-width="1"/>
<text x="368.0" y="31.2" fill="#8a00c8" textLength="20.0" lengthAdjust="spacingAndGlyphs">Boll-</text>
<rect x="392.0" y="21.0" width="64.0" height="14.0" fill="url(#gL)"/>
<path d="M392.5,34.5 V21.5 H455.5" fill="none" stroke="#fbfcfd" stroke-width="1"/>
<path d="M455.5,21.5 V34.5 H392.5" fill="none" stroke="#b9bdc3" stroke-width="1"/>
<text x="393.9" y="31.2" fill="#8a00c8" textLength="59.4" lengthAdjust="spacingAndGlyphs">BollM ( 20 2)</text>
<rect x="456.0" y="21.0" width="105.5" height="14.0" fill="url(#gL)"/>
<path d="M456.5,34.5 V21.5 H561.0" fill="none" stroke="#fbfcfd" stroke-width="1"/>
<path d="M561.0,21.5 V34.5 H456.5" fill="none" stroke="#b9bdc3" stroke-width="1"/>
<text x="458.8" y="31.2" fill="#e46a6a" textLength="100.3" lengthAdjust="spacingAndGlyphs">SuperTrend ( 2.1 13)</text>
<rect x="561.5" y="21.0" width="156.5" height="14.0" fill="url(#gL)"/>
<path d="M562.0,34.5 V21.5 H717.5" fill="none" stroke="#fbfcfd" stroke-width="1"/>
<path d="M717.5,21.5 V34.5 H562.0" fill="none" stroke="#b9bdc3" stroke-width="1"/>
<text x="564.2" y="31.2" fill="#0000cc" textLength="150.8" lengthAdjust="spacingAndGlyphs">Media Mobile (Esponenziale 34)</text>
<rect x="718.0" y="21.0" width="27.5" height="14.0" fill="url(#gL)"/>
<path d="M718.5,34.5 V21.5 H745.0" fill="none" stroke="#fbfcfd" stroke-width="1"/>
<path d="M745.0,21.5 V34.5 H718.5" fill="none" stroke="#b9bdc3" stroke-width="1"/>
<text x="720.9" y="31.2" fill="#00f000" textLength="20.2" lengthAdjust="spacingAndGlyphs">MM1</text>
<rect x="1.0" y="35.0" width="26.5" height="14.0" fill="url(#gL)"/>
<path d="M1.5,48.5 V35.5 H27.0" fill="none" stroke="#fbfcfd" stroke-width="1"/>
<path d="M27.0,35.5 V48.5 H1.5" fill="none" stroke="#b9bdc3" stroke-width="1"/>
<text x="3.0" y="44.8" fill="#0000e0" textLength="21.0" lengthAdjust="spacingAndGlyphs">MM2</text>
<rect x="27.5" y="35.0" width="27.0" height="14.0" fill="url(#gL)"/>
<path d="M28.0,48.5 V35.5 H54.0" fill="none" stroke="#fbfcfd" stroke-width="1"/>
<path d="M54.0,35.5 V48.5 H28.0" fill="none" stroke="#b9bdc3" stroke-width="1"/>
<text x="30.0" y="44.8" fill="#48e0d0" textLength="21.0" lengthAdjust="spacingAndGlyphs">MM3</text>
<rect x="54.5" y="35.0" width="27.0" height="14.0" fill="url(#gL)"/>
<path d="M55.0,48.5 V35.5 H81.0" fill="none" stroke="#fbfcfd" stroke-width="1"/>
<path d="M81.0,35.5 V48.5 H55.0" fill="none" stroke="#b9bdc3" stroke-width="1"/>
<text x="57.0" y="44.8" fill="#88ccf4" textLength="21.0" lengthAdjust="spacingAndGlyphs">MM4</text>
<rect x="81.5" y="35.0" width="27.0" height="14.0" fill="url(#gL)"/>
<path d="M82.0,48.5 V35.5 H108.0" fill="none" stroke="#fbfcfd" stroke-width="1"/>
<path d="M108.0,35.5 V48.5 H82.0" fill="none" stroke="#b9bdc3" stroke-width="1"/>
<text x="84.0" y="44.8" fill="#ff0000" textLength="21.0" lengthAdjust="spacingAndGlyphs">MM5</text>
<rect x="108.5" y="35.0" width="27.5" height="14.0" fill="url(#gL)"/>
<path d="M109.0,48.5 V35.5 H135.5" fill="none" stroke="#fbfcfd" stroke-width="1"/>
<path d="M135.5,35.5 V48.5 H109.0" fill="none" stroke="#b9bdc3" stroke-width="1"/>
<text x="111.0" y="44.8" fill="#9a30ff" textLength="21.0" lengthAdjust="spacingAndGlyphs">MM6</text>
<rect x="136.0" y="35.0" width="27.0" height="14.0" fill="url(#gL)"/>
<path d="M136.5,48.5 V35.5 H162.5" fill="none" stroke="#fbfcfd" stroke-width="1"/>
<path d="M162.5,35.5 V48.5 H136.5" fill="none" stroke="#b9bdc3" stroke-width="1"/>
<text x="138.3" y="44.8" fill="#dc70dc" textLength="21.0" lengthAdjust="spacingAndGlyphs">MM7</text>
<rect x="163.0" y="35.0" width="26.5" height="14.0" fill="url(#gL)"/>
<path d="M163.5,48.5 V35.5 H189.0" fill="none" stroke="#fbfcfd" stroke-width="1"/>
<path d="M189.0,35.5 V48.5 H163.5" fill="none" stroke="#b9bdc3" stroke-width="1"/>
<text x="165.3" y="44.8" fill="#ffb400" textLength="21.0" lengthAdjust="spacingAndGlyphs">MM8</text>
<rect x="189.5" y="35.0" width="27.0" height="14.0" fill="url(#gL)"/>
<path d="M190.0,48.5 V35.5 H216.0" fill="none" stroke="#fbfcfd" stroke-width="1"/>
<path d="M216.0,35.5 V48.5 H190.0" fill="none" stroke="#b9bdc3" stroke-width="1"/>
<text x="192.0" y="44.8" fill="#ff00ff" textLength="21.0" lengthAdjust="spacingAndGlyphs">MM9</text>
<rect x="216.5" y="35.0" width="32.5" height="14.0" fill="url(#gL)"/>
<path d="M217.0,48.5 V35.5 H248.5" fill="none" stroke="#fbfcfd" stroke-width="1"/>
<path d="M248.5,35.5 V48.5 H217.0" fill="none" stroke="#b9bdc3" stroke-width="1"/>
<text x="218.6" y="44.8" fill="#84ee84" textLength="27.8" lengthAdjust="spacingAndGlyphs">MM10</text>
<rect x="249.0" y="35.0" width="33.0" height="14.0" fill="url(#gL)"/>
<path d="M249.5,48.5 V35.5 H281.5" fill="none" stroke="#fbfcfd" stroke-width="1"/>
<path d="M281.5,35.5 V48.5 H249.5" fill="none" stroke="#b9bdc3" stroke-width="1"/>
<text x="251.8" y="44.8" fill="#c6c6c6" textLength="26.0" lengthAdjust="spacingAndGlyphs">MM11</text>
<rect x="282.0" y="35.0" width="83.5" height="14.0" fill="url(#gL)"/>
<path d="M282.5,48.5 V35.5 H365.0" fill="none" stroke="#fbfcfd" stroke-width="1"/>
<path d="M365.0,35.5 V48.5 H282.5" fill="none" stroke="#b9bdc3" stroke-width="1"/>
<text x="284.5" y="44.8" fill="#000094" textLength="77.5" lengthAdjust="spacingAndGlyphs">MM12 ( 10 2 10)</text>
<rect x="1.0" y="302.0" width="97.5" height="14.0" fill="url(#gL)"/>
<path d="M1.5,315.5 V302.5 H98.0" fill="none" stroke="#fbfcfd" stroke-width="1"/>
<path d="M98.0,302.5 V315.5 H1.5" fill="none" stroke="#b9bdc3" stroke-width="1"/>
<text x="3.1" y="312.3" fill="#000" textLength="92.5" lengthAdjust="spacingAndGlyphs">Av true range ( 14)</text>
<text x="74.6" y="58.8" style="font-size:12px" fill="#000" textLength="29.7" lengthAdjust="spacingAndGlyphs">Testo</text>
<text x="2.8" y="295.6" fill="#000" textLength="83.5" lengthAdjust="spacingAndGlyphs">© IT-Finance.com</text>
<path d="M407.5,298 V284.5 Q407.5,281.5 410.5,281.5 H492.5 Q495.5,281.5 495.5,284.5 V298" fill="#d4f8d4" stroke="#3ccc3c" stroke-width="1"/>
<text x="410.3" y="293.6" fill="#000" textLength="34.0" lengthAdjust="spacingAndGlyphs">3 ordini</text>
<text x="450.1" y="293.6" fill="#000" textLength="41.2" lengthAdjust="spacingAndGlyphs">13.535,6</text>
<line x1="448.5" y1="282" x2="448.5" y2="298" stroke="#3ccc3c" stroke-width="1"/>
<path d="M500.5,298 V284.5 Q500.5,281.5 503.5,281.5 H562.5 Q565.5,281.5 565.5,284.5 V298" fill="#d4f8d4" stroke="#3ccc3c" stroke-width="1"/>
<text x="503.0" y="293.6" fill="#000" textLength="58.5" lengthAdjust="spacingAndGlyphs">0@13.522,0</text>
<rect x="748" y="29.3" width="5" height="1.4" fill="#8a00c8"/>
<rect x="752.5" y="23.0" width="45.0" height="14" fill="#f5f5f7" stroke="#b4b6ba" stroke-width="1"/>
<text x="753.8" y="34.0" fill="#8a00c8" textLength="41.6" lengthAdjust="spacingAndGlyphs">13.553,3</text>
<rect x="748" y="56.5" width="4" height="1" fill="#9a9ea4"/>
<text x="753.6" y="61.0" fill="#000" textLength="32.5" lengthAdjust="spacingAndGlyphs">13.540</text>
<rect x="748" y="99.0" width="4" height="1" fill="#9a9ea4"/>
<text x="753.6" y="103.5" fill="#000" textLength="32.5" lengthAdjust="spacingAndGlyphs">13.520</text>
<rect x="752.5" y="136.0" width="45.0" height="14" fill="#f5f5f7" stroke="#b4b6ba" stroke-width="1"/>
<text x="753.8" y="147.0" fill="#0000d0" textLength="41.6" lengthAdjust="spacingAndGlyphs">13.495,3</text>
<rect x="748" y="150.8" width="5" height="1.4" fill="#0000d0"/>
<rect x="752.5" y="144.5" width="45.0" height="14" fill="#f5f5f7" stroke="#b4b6ba" stroke-width="1"/>
<text x="753.8" y="155.5" fill="#0000d0" textLength="41.6" lengthAdjust="spacingAndGlyphs">13.495,3</text>
<rect x="748" y="167.3" width="5" height="1.4" fill="#ff2828"/>
<rect x="752.5" y="161.0" width="45.0" height="14" fill="#f5f5f7" stroke="#b4b6ba" stroke-width="1"/>
<text x="753.8" y="172.0" fill="#ff2828" textLength="41.6" lengthAdjust="spacingAndGlyphs">13.486,2</text>
<rect x="748" y="180.3" width="5" height="1.4" fill="#e06868"/>
<rect x="752.5" y="174.0" width="45.0" height="14" fill="#f5f5f7" stroke="#b4b6ba" stroke-width="1"/>
<text x="753.8" y="185.0" fill="#e06868" textLength="41.6" lengthAdjust="spacingAndGlyphs">13.480,5</text>
<rect x="748" y="199.3" width="5" height="1.4" fill="#00e800"/>
<rect x="752.5" y="193.0" width="45.0" height="14" fill="#f5f5f7" stroke="#b4b6ba" stroke-width="1"/>
<text x="753.8" y="204.0" fill="#00e800" textLength="41.6" lengthAdjust="spacingAndGlyphs">13.470,9</text>
<rect x="748" y="222.5" width="4" height="1" fill="#9a9ea4"/>
<text x="753.6" y="227.0" fill="#000" textLength="32.5" lengthAdjust="spacingAndGlyphs">13.460</text>
<rect x="748" y="264.5" width="4" height="1" fill="#9a9ea4"/>
<text x="753.6" y="269.0" fill="#000" textLength="32.5" lengthAdjust="spacingAndGlyphs">13.440</text>
<rect x="748" y="269.3" width="5" height="1.4" fill="#8a00c8"/>
<rect x="752.5" y="263.0" width="45.0" height="14" fill="#f5f5f7" stroke="#b4b6ba" stroke-width="1"/>
<text x="753.8" y="274.0" fill="#8a00c8" textLength="41.6" lengthAdjust="spacingAndGlyphs">13.437,3</text>
<rect x="748" y="240.3" width="5" height="1.4" fill="#000"/>
<rect x="752.5" y="234.0" width="45.0" height="14" fill="url(#gY)" stroke="#b4b6ba" stroke-width="1"/>
<text x="753.8" y="245.0" fill="#000" textLength="41.6" lengthAdjust="spacingAndGlyphs">13.451,3</text>
<rect x="748" y="322.5" width="4" height="1" fill="#9a9ea4"/>
<text x="753.6" y="327.0" fill="#000" textLength="12.0" lengthAdjust="spacingAndGlyphs">24</text>
<rect x="748" y="365.6" width="4" height="1" fill="#9a9ea4"/>
<text x="753.6" y="370.1" fill="#000" textLength="12.0" lengthAdjust="spacingAndGlyphs">22</text>
<rect x="748" y="408.7" width="4" height="1" fill="#9a9ea4"/>
<text x="753.6" y="413.2" fill="#000" textLength="13.4" lengthAdjust="spacingAndGlyphs" class="b">20</text>
<rect x="748" y="451.8" width="4" height="1" fill="#9a9ea4"/>
<text x="753.6" y="456.3" fill="#000" textLength="12.0" lengthAdjust="spacingAndGlyphs">18</text>
<rect x="748" y="494.9" width="4" height="1" fill="#9a9ea4"/>
<text x="753.6" y="499.4" fill="#000" textLength="12.0" lengthAdjust="spacingAndGlyphs">16</text>
<rect x="748" y="538.0" width="4" height="1" fill="#9a9ea4"/>
<text x="753.6" y="542.5" fill="#000" textLength="12.0" lengthAdjust="spacingAndGlyphs">14</text>
<rect x="748" y="344.1" width="2.4" height="1" fill="#a4a8ae"/>
<rect x="748" y="387.1" width="2.4" height="1" fill="#a4a8ae"/>
<rect x="748" y="430.2" width="2.4" height="1" fill="#a4a8ae"/>
<rect x="748" y="473.4" width="2.4" height="1" fill="#a4a8ae"/>
<rect x="748" y="516.5" width="2.4" height="1" fill="#a4a8ae"/>
<rect x="748" y="559.5" width="2.4" height="1" fill="#a4a8ae"/>
<rect x="748" y="482.3" width="5" height="1.4" fill="#000"/>
<rect x="752.5" y="476.0" width="36.0" height="14" fill="#f5f5f7" stroke="#b4b6ba" stroke-width="1"/>
<text x="753.8" y="487.0" fill="#000" textLength="32.6" lengthAdjust="spacingAndGlyphs">16,572</text>
<rect x="31.0" y="580" width="1" height="4" fill="#9a9ea4"/>
<text x="31.5" y="595.7" text-anchor="middle" fill="#000">17.00</text>
<rect x="77.0" y="580" width="1" height="4" fill="#9a9ea4"/>
<text x="77.5" y="595.7" text-anchor="middle" fill="#000">19.00</text>
<rect x="124.0" y="580" width="1" height="4" fill="#9a9ea4"/>
<text x="124.5" y="595.7" text-anchor="middle" fill="#000">21.00</text>
<rect x="194.0" y="580" width="1" height="4" fill="#9a9ea4"/>
<text x="194.5" y="595.7" text-anchor="middle" fill="#000" class="b">10</text>
<rect x="264.0" y="580" width="1" height="4" fill="#9a9ea4"/>
<text x="264.5" y="595.7" text-anchor="middle" fill="#000">3.00</text>
<rect x="311.0" y="580" width="1" height="4" fill="#9a9ea4"/>
<text x="311.5" y="595.7" text-anchor="middle" fill="#000">5.00</text>
<rect x="357.0" y="580" width="1" height="4" fill="#9a9ea4"/>
<text x="357.5" y="595.7" text-anchor="middle" fill="#000">7.00</text>
<rect x="404.0" y="580" width="1" height="4" fill="#9a9ea4"/>
<text x="404.5" y="595.7" text-anchor="middle" fill="#000">9.00</text>
<rect x="451.0" y="580" width="1" height="4" fill="#9a9ea4"/>
<text x="451.5" y="595.7" text-anchor="middle" fill="#000">11.00</text>
<rect x="497.0" y="580" width="1" height="4" fill="#9a9ea4"/>
<text x="497.5" y="595.7" text-anchor="middle" fill="#000">13.00</text>
<rect x="544.0" y="580" width="1" height="4" fill="#9a9ea4"/>
<text x="544.5" y="595.7" text-anchor="middle" fill="#000">15.00</text>
<rect x="591.0" y="580" width="1" height="4" fill="#9a9ea4"/>
<text x="591.5" y="595.7" text-anchor="middle" fill="#000">17.00</text>
<rect x="637.0" y="580" width="1" height="4" fill="#9a9ea4"/>
<text x="637.5" y="595.7" text-anchor="middle" fill="#000">19.00</text>
<rect x="684.0" y="580" width="1" height="4" fill="#9a9ea4"/>
<text x="684.5" y="595.7" text-anchor="middle" fill="#000">21.00</text>
<rect x="730.0" y="580" width="1" height="4" fill="#9a9ea4"/>
<text x="730.5" y="595.7" text-anchor="middle" fill="#000" class="b">13</text>
<rect x="0" y="0" width="800" height="1" fill="#aeb2b8"/>
<rect x="0" y="0" width="1" height="600" fill="#aeb2b8"/>
<rect x="0" y="599" width="800" height="1" fill="#aeb2b8"/>
<rect x="799" y="0" width="1" height="600" fill="#c4c7cc"/>
</svg></body></html>
